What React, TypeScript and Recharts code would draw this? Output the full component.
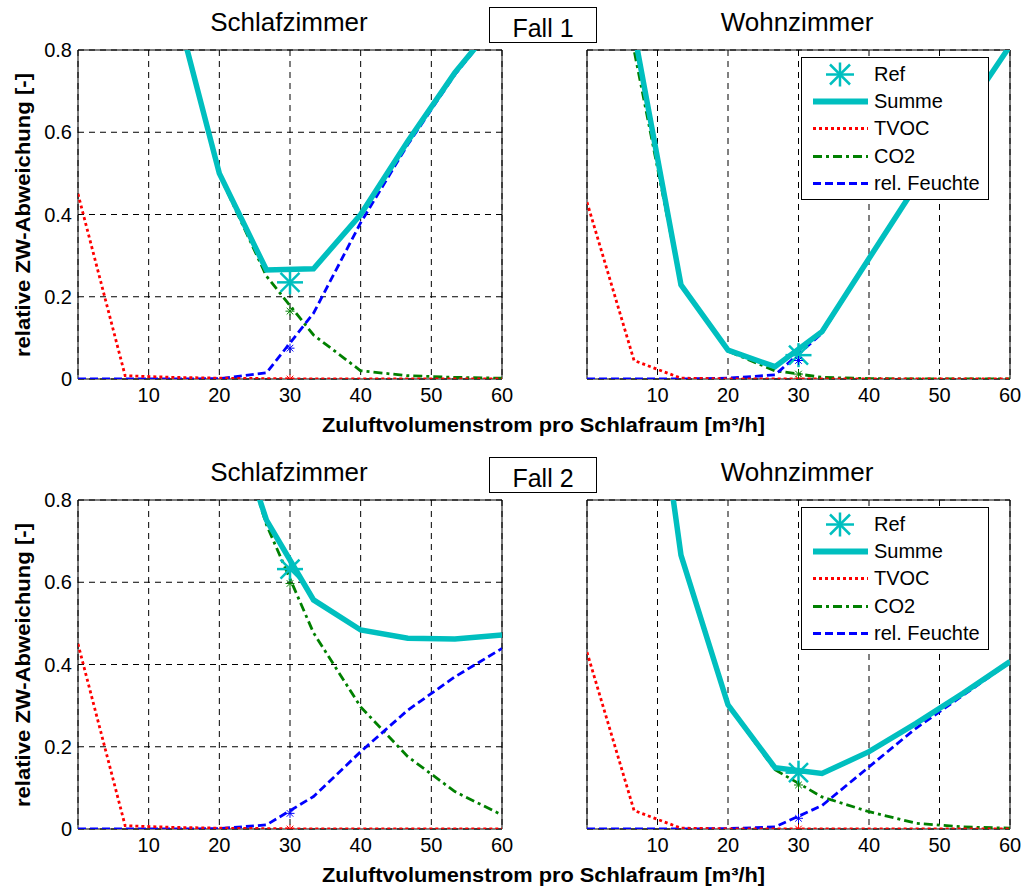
import React from 'react';
import {
  ComposedChart,
  Line,
  Scatter,
  XAxis,
  YAxis,
  CartesianGrid,
  ReferenceArea,
  Legend,
} from 'recharts';

const FONT = '"Liberation Sans", Arial, Helvetica, sans-serif';

// ---------- shared axes / labels ----------
const xValues = [0, 6.67, 13.33, 20, 26.67, 33.33, 40, 46.67, 53.33, 60];
const xTicks = [0, 10, 20, 30, 40, 50, 60];
const yTicks = [0, 0.2, 0.4, 0.6, 0.8];
const refX = 30;

const seriesNames = ['Ref', 'Summe', 'TVOC', 'CO2', 'rel. Feuchte'];
const roomTitles = ['Schlafzimmer', 'Wohnzimmer'];
const caseTitles = ['Fall 1', 'Fall 2'];
const yLabel = 'relative ZW-Abweichung [-]';
const xLabel = 'Zuluftvolumenstrom pro Schlafraum [m³/h]';

// ---------- Fall 1 – Schlafzimmer ----------
const f1sSumme = [3.45, 1.91, 0.94, 0.5, 0.265, 0.268, 0.4, 0.578, 0.745, 0.884];
const f1sTvoc = [0.45, 0.008, 0.004, 0.002, 0.001, 0, 0, 0, 0, 0];
const f1sCo2 = [3.0, 1.9, 0.936, 0.497, 0.25, 0.107, 0.02, 0.008, 0.004, 0.002];
const f1sFeuchte = [0, 0, 0, 0.001, 0.015, 0.16, 0.38, 0.57, 0.74, 0.882];
const f1sAt30 = [0.235, 0, 0.165, 0.075]; // Ref, TVOC, CO2, rel. Feuchte

// ---------- Fall 1 – Wohnzimmer ----------
const f1wSumme = [2.6, 0.845, 0.229, 0.07, 0.03, 0.115, 0.293, 0.47, 0.64, 0.81];
const f1wTvoc = [0.43, 0.045, 0.002, 0.0005, 0, 0, 0, 0, 0, 0];
const f1wCo2 = [2.2, 0.8, 0.227, 0.068, 0.02, 0.004, 0.001, 0, 0, 0];
const f1wFeuchte = [0, 0, 0, 0.002, 0.01, 0.111, 0.292, 0.47, 0.64, 0.81];
const f1wAt30 = [0.058, 0, 0.012, 0.045];

// ---------- Fall 2 – Schlafzimmer ----------
const f2sSumme = [4.0, 2.4, 1.5, 1.1, 0.751, 0.557, 0.484, 0.464, 0.462, 0.472];
const f2sTvoc = [0.45, 0.008, 0.004, 0.002, 0.001, 0, 0, 0, 0, 0];
const f2sCo2 = [3.5, 2.39, 1.49, 1.1, 0.74, 0.477, 0.297, 0.176, 0.091, 0.034];
const f2sFeuchte = [0, 0, 0, 0.001, 0.01, 0.079, 0.188, 0.289, 0.37, 0.439];
const f2sAt30 = [0.632, 0, 0.597, 0.038];

// ---------- Fall 2 – Wohnzimmer ----------
const f2wSumme = [3.2, 1.49, 0.666, 0.302, 0.149, 0.135, 0.188, 0.257, 0.33, 0.407];
const f2wTvoc = [0.43, 0.045, 0.002, 0.0005, 0, 0, 0, 0, 0, 0];
const f2wCo2 = [2.8, 1.445, 0.664, 0.3, 0.144, 0.078, 0.042, 0.014, 0.005, 0.002];
const f2wFeuchte = [0, 0, 0, 0.001, 0.005, 0.057, 0.151, 0.245, 0.325, 0.405];
const f2wAt30 = [0.137, 0, 0.107, 0.026];

const COLORS = {
  summe: '#00BFBF',
  tvoc: '#FF0000',
  co2: '#008000',
  feuchte: '#0000FF',
};

const DASH = {
  tvoc: '3 3',
  co2: '9 4 3 4',
  feuchte: '8 4',
};

const THIN = 2.8;

function Asterisk({ cx, cy, rh, rv, rd, color, sw }: any) {
  if (cx == null || cy == null) return null;
  return (
    <g stroke={color} strokeWidth={sw} fill="none">
      <line x1={cx - rh} y1={cy} x2={cx + rh} y2={cy} />
      <line x1={cx} y1={cy - rv} x2={cx} y2={cy + rv} />
      <line x1={cx - rd} y1={cy - rd} x2={cx + rd} y2={cy + rd} />
      <line x1={cx - rd} y1={cy + rd} x2={cx + rd} y2={cy - rd} />
    </g>
  );
}

const bigStar = (color: string) => (p: any) => (
  <Asterisk cx={p.cx} cy={p.cy} rh={13} rv={12} rd={9.5} color={color} sw={2.5} />
);
const smallStar = (color: string) => (p: any) => (
  <Asterisk cx={p.cx} cy={p.cy} rh={4.5} rv={4.5} rd={3.3} color={color} sw={1} />
);

function LegendIcon({ index }: { index: number }) {
  const y = 13.5;
  if (index === 0) {
    return <Asterisk cx={38} cy={y} rh={14} rv={12} rd={10} color={COLORS.summe} sw={2.5} />;
  }
  if (index === 1) {
    return <line x1={11} y1={y} x2={66} y2={y} stroke={COLORS.summe} strokeWidth={6} />;
  }
  if (index === 2) {
    return <line x1={11} y1={y} x2={66} y2={y} stroke={COLORS.tvoc} strokeWidth={THIN} strokeDasharray={DASH.tvoc} />;
  }
  if (index === 3) {
    return <line x1={11} y1={y} x2={66} y2={y} stroke={COLORS.co2} strokeWidth={THIN} strokeDasharray={DASH.co2} />;
  }
  return <line x1={11} y1={y} x2={66} y2={y} stroke={COLORS.feuchte} strokeWidth={THIN} strokeDasharray={DASH.feuchte} />;
}

const LegendBox = () => (
  <div
    style={{
      width: 188,
      height: 143,
      boxSizing: 'border-box',
      border: '1px solid #000',
      background: '#fff',
      paddingTop: 3,
    }}
  >
    {seriesNames.map((name, i) => (
      <div key={name} style={{ display: 'flex', alignItems: 'center', height: 27.2 }}>
        <svg width={72} height={27} style={{ display: 'block', flex: 'none' }}>
          <LegendIcon index={i} />
        </svg>
        <span style={{ fontSize: 20, fontFamily: FONT, color: '#000', lineHeight: '27px', whiteSpace: 'nowrap' }}>
          {name}
        </span>
      </div>
    ))}
  </div>
);

type PanelProps = {
  left: number;
  top: number;
  width: number;
  showY: boolean;
  showLegend: boolean;
  summe: number[];
  tvoc: number[];
  co2: number[];
  feuchte: number[];
  at30: number[];
};

function Panel({ left, top, width, showY, showLegend, summe, tvoc, co2, feuchte, at30 }: PanelProps) {
  const data = xValues.map((x, i) => ({
    x,
    summe: summe[i],
    tvoc: tvoc[i],
    co2: co2[i],
    feuchte: feuchte[i],
  }));
  const pt = (v: number) => [{ x: refX, v }];
  const tickStyle = { fontSize: 20, fill: '#000', fontFamily: FONT };
  return (
    <div style={{ position: 'absolute', left, top }}>
      <ComposedChart
        width={width}
        height={369}
        data={data}
        margin={{ top: 10, right: 13, left: 0, bottom: 0 }}
      >
        <CartesianGrid stroke="#000" strokeDasharray="6 5" strokeWidth={1} />
        <XAxis
          type="number"
          dataKey="x"
          domain={[0, 60]}
          ticks={xTicks}
          interval={0}
          allowDataOverflow
          tickFormatter={(v: number) => (v === 0 ? '' : String(v))}
          tick={tickStyle}
          tickLine={false}
          axisLine={false}
          tickSize={0}
          tickMargin={9}
          height={30}
        />
        <YAxis
          type="number"
          domain={[0, 0.8]}
          ticks={yTicks}
          interval={0}
          allowDataOverflow
          width={78}
          tick={showY ? tickStyle : false}
          tickLine={false}
          axisLine={false}
          tickSize={0}
          tickMargin={6}
        />
        <ReferenceArea
          x1={0}
          x2={60}
          y1={0}
          y2={0.8}
          fill="none"
          fillOpacity={0}
          stroke="#000"
          strokeWidth={1}
        />
        <Line
          type="linear"
          dataKey="co2"
          stroke={COLORS.co2}
          strokeWidth={THIN}
          strokeDasharray={DASH.co2}
          dot={false}
          activeDot={false}
          isAnimationActive={false}
        />
        <Line
          type="linear"
          dataKey="feuchte"
          stroke={COLORS.feuchte}
          strokeWidth={THIN}
          strokeDasharray={DASH.feuchte}
          dot={false}
          activeDot={false}
          isAnimationActive={false}
        />
        <Line
          type="linear"
          dataKey="summe"
          stroke={COLORS.summe}
          strokeWidth={5.5}
          dot={false}
          activeDot={false}
          isAnimationActive={false}
        />
        <Line
          type="linear"
          dataKey="tvoc"
          stroke={COLORS.tvoc}
          strokeWidth={THIN}
          strokeDasharray={DASH.tvoc}
          dot={false}
          activeDot={false}
          isAnimationActive={false}
        />
        <Scatter data={pt(at30[0])} dataKey="v" shape={bigStar(COLORS.summe)} isAnimationActive={false} />
        <Scatter data={pt(at30[1])} dataKey="v" shape={smallStar(COLORS.tvoc)} isAnimationActive={false} />
        <Scatter data={pt(at30[2])} dataKey="v" shape={smallStar(COLORS.co2)} isAnimationActive={false} />
        <Scatter data={pt(at30[3])} dataKey="v" shape={smallStar(COLORS.feuchte)} isAnimationActive={false} />
        {showLegend && (
          <Legend
            layout="vertical"
            align="center"
            verticalAlign="middle"
            width={188}
            height={143}
            wrapperStyle={{ left: 292, top: 17, width: 188, height: 143 }}
            content={() => <LegendBox />}
          />
        )}
      </ComposedChart>
    </div>
  );
}

function Labels() {
  const rows = [0, 450];
  return (
    <svg
      width={1025}
      height={890}
      style={{ position: 'absolute', left: 0, top: 0, pointerEvents: 'none' }}
      fontFamily={FONT}
    >
      {rows.map((dy, r) => (
        <g key={r}>
          <text x={289} y={31 + dy} fontSize={26} textAnchor="middle" fill="#000">
            {roomTitles[0]}
          </text>
          <text x={797} y={31 + dy} fontSize={26} textAnchor="middle" fill="#000">
            {roomTitles[1]}
          </text>
          <rect x={489.5} y={7.5 + dy} width={107} height={35} fill="#fff" stroke="#000" strokeWidth={1} />
          <text x={543} y={36.5 + dy} fontSize={25} textAnchor="middle" fill="#000">
            {caseTitles[r]}
          </text>
          <text
            transform={`translate(30, ${215 + dy}) rotate(-90)`}
            fontSize={20}
            fontWeight="bold"
            textAnchor="middle"
            textLength={284}
            lengthAdjust="spacingAndGlyphs"
            fill="#000"
          >
            {yLabel}
          </text>
          <text
            x={543.5}
            y={432 + dy}
            fontSize={21}
            fontWeight="bold"
            textAnchor="middle"
            textLength={443}
            lengthAdjust="spacingAndGlyphs"
            fill="#000"
          >
            {xLabel}
          </text>
        </g>
      ))}
    </svg>
  );
}

export default function App() {
  return (
    <div
      style={{
        position: 'absolute',
        left: 0,
        top: 0,
        width: 1025,
        height: 890,
        background: '#fff',
        overflow: 'hidden',
        fontFamily: FONT,
      }}
    >
      <Labels />
      <Panel left={0} top={40} width={515} showY showLegend={false}
        summe={f1sSumme} tvoc={f1sTvoc} co2={f1sCo2} feuchte={f1sFeuchte} at30={f1sAt30} />
      <Panel left={509} top={40} width={514} showY={false} showLegend
        summe={f1wSumme} tvoc={f1wTvoc} co2={f1wCo2} feuchte={f1wFeuchte} at30={f1wAt30} />
      <Panel left={0} top={490} width={515} showY showLegend={false}
        summe={f2sSumme} tvoc={f2sTvoc} co2={f2sCo2} feuchte={f2sFeuchte} at30={f2sAt30} />
      <Panel left={509} top={490} width={514} showY={false} showLegend
        summe={f2wSumme} tvoc={f2wTvoc} co2={f2wCo2} feuchte={f2wFeuchte} at30={f2wAt30} />
    </div>
  );
}
